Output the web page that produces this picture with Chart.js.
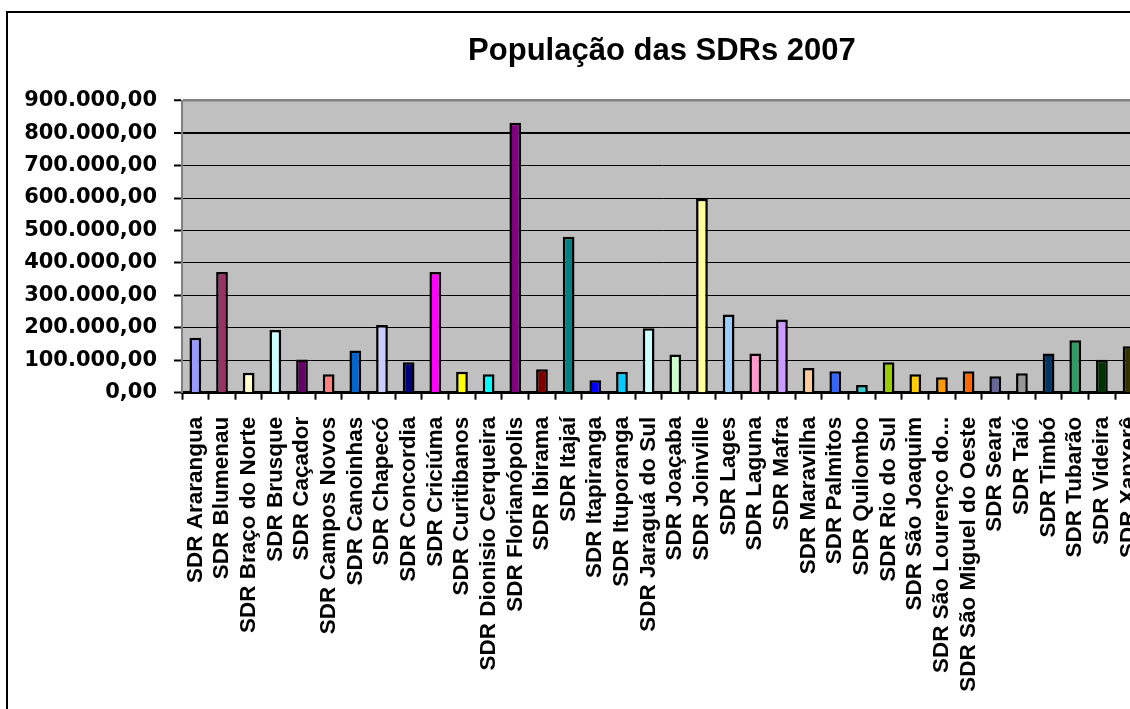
<!DOCTYPE html>
<html lang="pt-BR">
<head>
<meta charset="utf-8">
<title>População das SDRs 2007</title>
<script src="https://cdn.jsdelivr.net/npm/chart.js@4"></script>
<style>
    html, body { margin: 0; padding: 0; background: #fff; overflow: hidden; }
    #wrap { position: relative; width: 1130px; height: 709px; overflow: hidden; }
    #frame {
        position: absolute; left: 6px; top: 11px; width: 2000px; height: 2000px;
        border-left: 2px solid #000; border-top: 2px solid #000;
    }
    #sdrChart { position: absolute; left: 0; top: 0; }
</style>
</head>
<body>
<div id="wrap">
    <div id="frame"></div>
    <canvas id="sdrChart" width="1173" height="709"></canvas>
</div>
<script>
// --- Data ---
const sdrNames = [
    'SDR Ararangua', 'SDR Blumenau', 'SDR Braço do Norte', 'SDR Brusque', 'SDR Caçador',
    'SDR Campos Novos', 'SDR Canoinhas', 'SDR Chapecó', 'SDR Concordia', 'SDR Criciúma',
    'SDR Curitibanos', 'SDR Dionisio Cerqueira', 'SDR Florianópolis', 'SDR Ibirama', 'SDR Itajaí',
    'SDR Itapiranga', 'SDR Ituporanga', 'SDR Jaraguá do Sul', 'SDR Joaçaba', 'SDR Joinville',
    'SDR Lages', 'SDR Laguna', 'SDR Mafra', 'SDR Maravilha', 'SDR Palmitos',
    'SDR Quilombo', 'SDR Rio do Sul', 'SDR São Joaquim', 'SDR São Lourenço do...', 'SDR São Miguel do Oeste',
    'SDR Seara', 'SDR Taió', 'SDR Timbó', 'SDR Tubarão', 'SDR Videira', 'SDR Xanxerê'
];

const population2007 = [
    169000, 372000, 61500, 193000, 102000,
    56500, 130000, 209000, 93500, 372000,
    64500, 56500, 832000, 72000, 481000,
    38000, 64500, 199000, 118000, 598000,
    241000, 121000, 226000, 76000, 66000,
    23500, 93500, 56500, 48000, 66000,
    51000, 60000, 121000, 162000, 101500, 143000
];

const barColors = [
    '#9999ff', '#993366', '#ffffcc', '#ccffff', '#660066',
    '#ff8080', '#0066cc', '#ccccff', '#000080', '#ff00ff',
    '#ffff00', '#00ffff', '#800080', '#800000', '#008080',
    '#0000ff', '#00ccff', '#ccffff', '#ccffcc', '#ffff99',
    '#99ccff', '#ff99cc', '#cc99ff', '#ffcc99', '#3366ff',
    '#33cccc', '#99cc00', '#ffcc00', '#ff9900', '#ff6600',
    '#666699', '#969696', '#003366', '#339966', '#003300', '#333300'
];

const yMax = 900000;
const yStep = 100000;

// pt-BR style number, e.g. 900.000,00
function formatBR(v) {
    const int = Math.round(v).toString().replace(/\B(?=(\d{3})+(?!\d))/g, '.');
    return int + ',00';
}

// --- Gray plot area like Excel ---
const plotBackground = {
    id: 'plotBackground',
    beforeDraw(chart) {
        const { ctx, chartArea: a } = chart;
        ctx.save();
        ctx.fillStyle = '#c0c0c0';
        ctx.fillRect(a.left, a.top, a.right - a.left, a.bottom - a.top);
        ctx.restore();
    }
};

Chart.defaults.color = '#000';
Chart.defaults.font.family = '"Liberation Sans", Arial, sans-serif';

const ctx = document.getElementById('sdrChart').getContext('2d');
new Chart(ctx, {
    type: 'bar',
    data: {
        labels: sdrNames,
        datasets: [{
            label: 'População',
            data: population2007,
            backgroundColor: barColors,
            borderColor: '#000',
            borderWidth: 2.5,
            categoryPercentage: 1,
            barPercentage: 0.44
        }]
    },
    options: {
        responsive: false,
        animation: false,
        layout: { padding: { top: 0, left: 0, right: 7, bottom: 0 } },
        plugins: {
            legend: { display: false },
            tooltip: { enabled: false },
            title: {
                display: true,
                text: 'População das SDRs 2007',
                fullSize: false,
                color: '#000',
                font: { size: 31, weight: 'bold' },
                padding: { top: 32.5, bottom: 31 }
            }
        },
        scales: {
            x: {
                afterFit: (scale) => { scale.height = 316.3; },
                border: { color: '#000', width: 3 },
                grid: {
                    drawOnChartArea: false,
                    drawTicks: true,
                    tickLength: 7,
                    tickColor: '#000',
                    tickWidth: 2
                },
                ticks: {
                    autoSkip: false,
                    minRotation: 90,
                    maxRotation: 90,
                    padding: 17,
                    color: '#000',
                    font: { size: 22.5, weight: 'bold' }
                }
            },
            y: {
                min: 0,
                max: yMax,
                afterFit: (scale) => { scale.width = 182; },
                border: { color: '#808080', width: 2 },
                grid: {
                    color: (c) => (c.tick && c.tick.value === yMax) ? '#808080' : '#000',
                    lineWidth: (c) => {
                        if (!c.tick) return 1;
                        if (c.tick.value === yMax) return 2.5;
                        if (c.tick.value === 800000) return 2;
                        return 1;
                    },
                    tickLength: 8,
                    tickColor: '#000',
                    tickWidth: 2
                },
                ticks: {
                    stepSize: yStep,
                    padding: 17,
                    color: '#000',
                    font: { family: '"DejaVu Sans", sans-serif', size: 21, weight: 'bold' },
                    callback: (v) => formatBR(v)
                }
            }
        }
    },
    plugins: [plotBackground]
});
</script>
</body>
</html>
